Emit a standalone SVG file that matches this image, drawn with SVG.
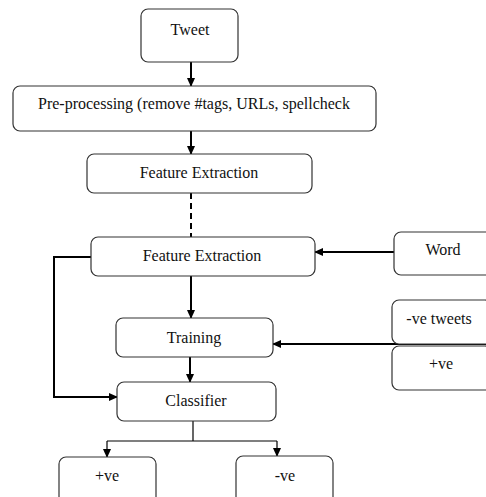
<svg xmlns="http://www.w3.org/2000/svg" width="486" height="497" viewBox="0 0 486 497">
<style>
.box{fill:#fff;stroke:#333;stroke-width:1.2}
.t{font-family:"Liberation Serif","Times New Roman",serif;font-size:16px;fill:#111;text-anchor:middle}
.c{fill:none;stroke:#000;stroke-width:2}
.thin{fill:none;stroke:#000;stroke-width:1.2}
</style>
<defs>
<marker id="ah" markerWidth="10" markerHeight="10" refX="8" refY="5" orient="auto" markerUnits="userSpaceOnUse"><path d="M0,1 L9,5 L0,9 Z" fill="#000"/></marker>
</defs>
<rect width="486" height="497" fill="#fff"/>
<g id="connectors">
<line class="c" x1="191" y1="62" x2="191" y2="86" marker-end="url(#ah)"/>
<line class="c" x1="191" y1="131" x2="191" y2="154" marker-end="url(#ah)"/>
<line class="c" x1="191" y1="193" x2="191" y2="237" stroke-dasharray="6,4"/>
<line class="c" x1="394" y1="252" x2="315" y2="252" marker-end="url(#ah)"/>
<line class="c" x1="191" y1="276" x2="191" y2="318" marker-end="url(#ah)"/>
<line class="c" x1="486" y1="344" x2="273" y2="344" marker-end="url(#ah)"/>
<line class="c" x1="190" y1="357" x2="190" y2="382" marker-end="url(#ah)"/>
<path class="c" d="M91,257 H54 V397 H117" marker-end="url(#ah)"/>
<path class="thin" d="M193,421 V441"/>
<path class="thin" d="M107,441 H277"/>
<line class="thin" x1="107" y1="441" x2="107" y2="457" marker-end="url(#ah)"/>
<line class="thin" x1="277" y1="441" x2="277" y2="456" marker-end="url(#ah)"/>
</g>
<g id="tweet"><rect class="box" x="141" y="9" width="97" height="53" rx="7"/><text class="t" x="190" y="35">Tweet</text></g>
<g id="preprocessing"><rect class="box" x="13" y="86" width="363" height="45" rx="7"/><text class="t" x="194" y="109">Pre-processing (remove #tags, URLs, spellcheck</text></g>
<g id="feature1"><rect class="box" x="87" y="154" width="225" height="39" rx="7"/><text class="t" x="199" y="178">Feature Extraction</text></g>
<g id="feature2"><rect class="box" x="91" y="237" width="224" height="39" rx="7"/><text class="t" x="202" y="261">Feature Extraction</text></g>
<g id="word"><rect class="box" x="394" y="232" width="100" height="43" rx="7"/><text class="t" x="443" y="255">Word</text></g>
<g id="training"><rect class="box" x="116" y="318" width="157" height="39" rx="7"/><text class="t" x="194" y="343">Training</text></g>
<g id="negtweets"><rect class="box" x="392" y="300" width="100" height="44" rx="7"/><text class="t" x="439" y="324">-ve tweets</text></g>
<g id="postweets"><rect class="box" x="392" y="346" width="100" height="44" rx="7"/><text class="t" x="441" y="369">+ve</text></g>
<g id="classifier"><rect class="box" x="117" y="382" width="159" height="39" rx="7"/><text class="t" x="196" y="406">Classifier</text></g>
<g id="pos"><rect class="box" x="59" y="457" width="97" height="50" rx="7"/><text class="t" x="107" y="481">+ve</text></g>
<g id="neg"><rect class="box" x="236" y="456" width="97" height="51" rx="7"/><text class="t" x="285" y="481">-ve</text></g>
</svg>
